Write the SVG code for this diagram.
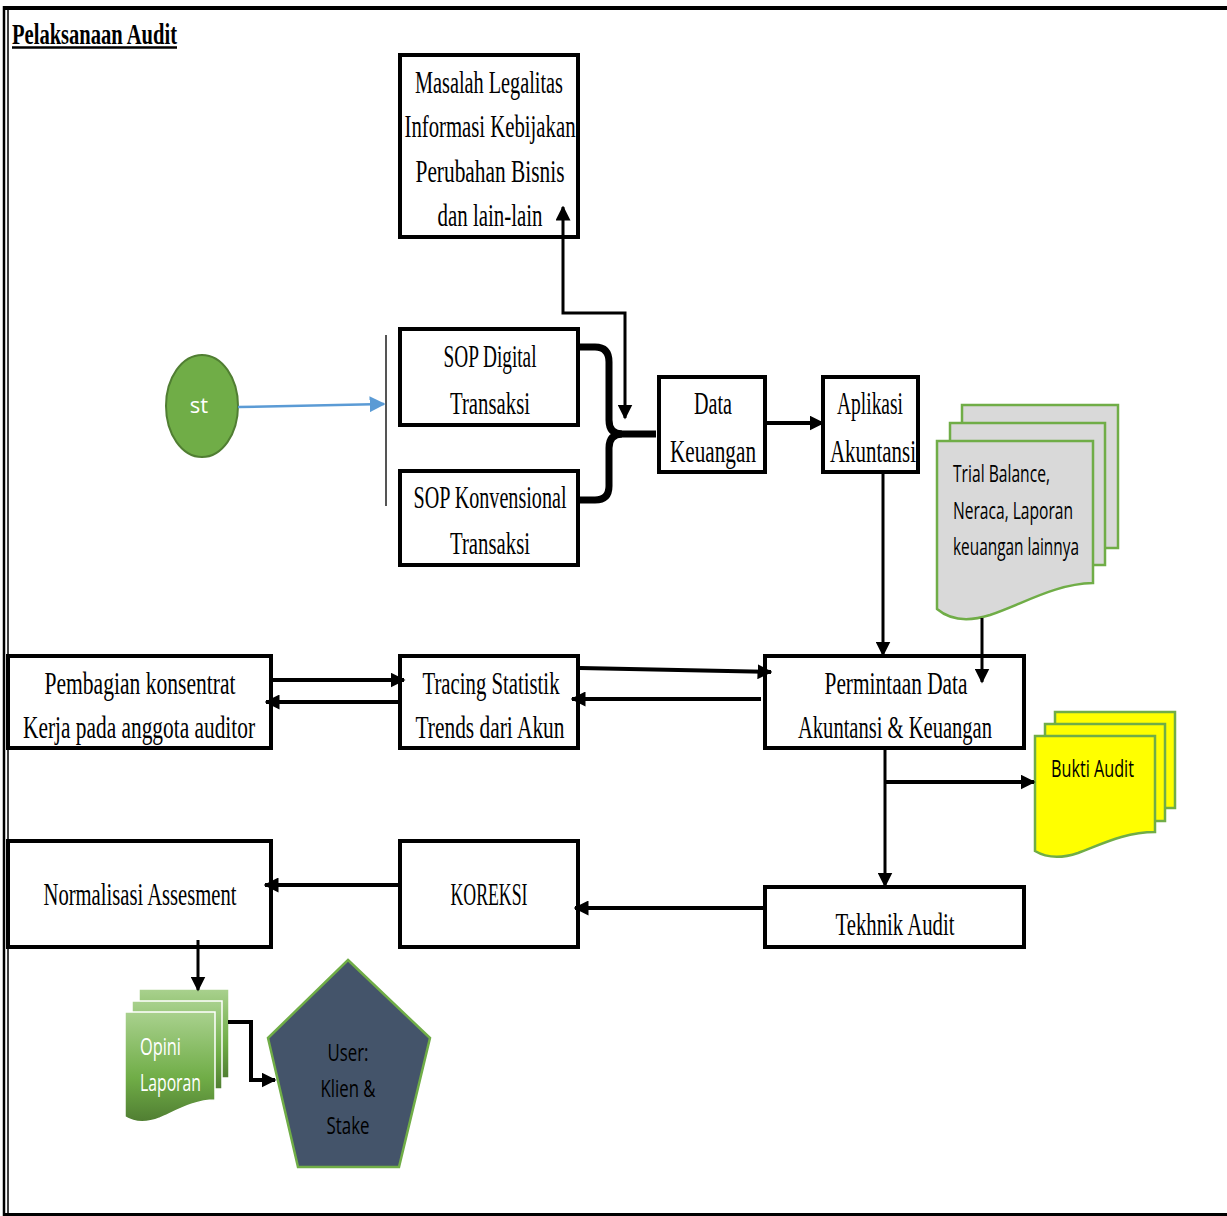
<svg xmlns="http://www.w3.org/2000/svg" width="1227" height="1216" viewBox="0 0 1227 1216">
<defs>
<style>
.box{fill:#fff;stroke:#000;stroke-width:4}
.t{font-family:"Liberation Serif","DejaVu Serif",serif;font-size:32px;fill:#000;text-anchor:middle}
.s{font-family:"Open Sans","Liberation Sans",sans-serif;font-size:23px;fill:#000}
.ln{fill:none;stroke:#000;stroke-width:4}
.ln3{fill:none;stroke:#000;stroke-width:3}
.gdoc{fill:#D9D9D9;stroke:#70AD47;stroke-width:2.5}
.ydoc{fill:#FFFF00;stroke:#70AD47;stroke-width:2.5}
.odoc{fill:url(#og);stroke:#fff;stroke-width:1.5}
</style>
<linearGradient id="og" x1="0" y1="0" x2="0" y2="1">
<stop offset="0" stop-color="#A9D18E"/>
<stop offset="0.6" stop-color="#70AD47"/>
<stop offset="1" stop-color="#507E32"/>
</linearGradient>
<marker id="ah" viewBox="0 0 10 10" refX="9" refY="5" markerWidth="15" markerHeight="15" markerUnits="userSpaceOnUse" orient="auto-start-reverse">
<path d="M0,0 L10,5 L0,10 Z" fill="#000"/>
</marker>
<marker id="ahb" viewBox="0 0 10 10" refX="9" refY="5" markerWidth="16" markerHeight="18" markerUnits="userSpaceOnUse" orient="auto">
<path d="M0,0 L10,5 L0,10 Z" fill="#5B9BD5"/>
</marker>
</defs>

<g id="frame">
<line x1="4" y1="8" x2="1227" y2="8" stroke="#000" stroke-width="4"/>
<line x1="4" y1="6" x2="4" y2="1216" stroke="#000" stroke-width="2.5"/>
<line x1="8" y1="8" x2="8" y2="1214" stroke="#000" stroke-width="1.5"/>
<line x1="4" y1="1214.5" x2="1227" y2="1214.5" stroke="#000" stroke-width="3"/>
</g>

<g id="title">
<text x="12" y="44" font-family="Liberation Serif, serif" font-size="30" font-weight="bold" textLength="165" lengthAdjust="spacingAndGlyphs">Pelaksanaan Audit</text>
<line x1="12" y1="47.5" x2="177" y2="47.5" stroke="#000" stroke-width="2.5"/>
</g>

<g id="masalah">
<rect class="box" x="400" y="55" width="178" height="182"/>
<text class="t" x="489" y="93" textLength="148" lengthAdjust="spacingAndGlyphs">Masalah Legalitas</text>
<text class="t" x="490" y="137" textLength="171" lengthAdjust="spacingAndGlyphs">Informasi Kebijakan</text>
<text class="t" x="490" y="182" textLength="149" lengthAdjust="spacingAndGlyphs">Perubahan Bisnis</text>
<text class="t" x="490" y="226" textLength="105" lengthAdjust="spacingAndGlyphs">dan lain-lain</text>
</g>

<g id="start">
<ellipse cx="202" cy="406" rx="36" ry="51" fill="#70AD47" stroke="#507E32" stroke-width="2"/>
<text x="199" y="413" font-family="Open Sans, Liberation Sans, sans-serif" font-size="22" fill="#fff" text-anchor="middle">st</text>
</g>

<g id="sop-digital">
<rect class="box" x="400" y="329" width="178" height="96"/>
<text class="t" x="490" y="367" textLength="93" lengthAdjust="spacingAndGlyphs">SOP Digital</text>
<text class="t" x="490" y="414" textLength="80" lengthAdjust="spacingAndGlyphs">Transaksi</text>
</g>

<g id="sop-konvensional">
<rect class="box" x="400" y="471" width="178" height="94"/>
<text class="t" x="490" y="508" textLength="153" lengthAdjust="spacingAndGlyphs">SOP Konvensional</text>
<text class="t" x="490" y="554" textLength="80" lengthAdjust="spacingAndGlyphs">Transaksi</text>
</g>

<g id="data-keuangan">
<rect class="box" x="659" y="377" width="106" height="95"/>
<text class="t" x="713" y="414" textLength="38" lengthAdjust="spacingAndGlyphs">Data</text>
<text class="t" x="713" y="462" textLength="86" lengthAdjust="spacingAndGlyphs">Keuangan</text>
</g>

<g id="aplikasi">
<rect class="box" x="823" y="377" width="95" height="95"/>
<text class="t" x="870" y="414" textLength="66" lengthAdjust="spacingAndGlyphs">Aplikasi</text>
<text class="t" x="873" y="462" textLength="86" lengthAdjust="spacingAndGlyphs">Akuntansi</text>
</g>

<g id="trial-balance">
<rect class="gdoc" x="962" y="405" width="156" height="143"/>
<rect class="gdoc" x="950" y="423" width="155" height="142"/>
<path class="gdoc" d="M937,441 H1093 V583 C1055,584 1025,603 990,615 C968,622 950,620 937,609 Z"/>
<text class="s" x="953" y="482" textLength="97" lengthAdjust="spacingAndGlyphs">Trial Balance,</text>
<text class="s" x="953" y="519" textLength="120" lengthAdjust="spacingAndGlyphs">Neraca, Laporan</text>
<text class="s" x="953" y="555" textLength="126" lengthAdjust="spacingAndGlyphs">keuangan lainnya</text>
</g>

<g id="pembagian">
<rect class="box" x="8" y="656" width="263" height="92"/>
<text class="t" x="140" y="694" textLength="191" lengthAdjust="spacingAndGlyphs">Pembagian konsentrat</text>
<text class="t" x="139" y="738" textLength="232" lengthAdjust="spacingAndGlyphs">Kerja pada anggota auditor</text>
</g>

<g id="tracing">
<rect class="box" x="400" y="656" width="178" height="92"/>
<text class="t" x="491" y="694" textLength="137" lengthAdjust="spacingAndGlyphs">Tracing Statistik</text>
<text class="t" x="490" y="738" textLength="149" lengthAdjust="spacingAndGlyphs">Trends dari Akun</text>
</g>

<g id="permintaan">
<rect class="box" x="765" y="656" width="259" height="92"/>
<text class="t" x="896" y="694" textLength="143" lengthAdjust="spacingAndGlyphs">Permintaan Data</text>
<text class="t" x="895" y="738" textLength="194" lengthAdjust="spacingAndGlyphs">Akuntansi &amp; Keuangan</text>
</g>

<g id="bukti-audit">
<rect class="ydoc" x="1055" y="712" width="120" height="96"/>
<rect class="ydoc" x="1045" y="724" width="120" height="97"/>
<path class="ydoc" d="M1035,736 H1155 V832 C1125,832 1100,845 1078,853 C1060,859 1045,857 1035,851 Z"/>
<text class="s" x="1051" y="777" textLength="83" lengthAdjust="spacingAndGlyphs">Bukti Audit</text>
</g>

<g id="tekhnik-audit">
<rect class="box" x="765" y="887" width="259" height="60"/>
<text class="t" x="895" y="935" textLength="119" lengthAdjust="spacingAndGlyphs">Tekhnik Audit</text>
</g>

<g id="koreksi">
<rect class="box" x="400" y="841" width="178" height="106"/>
<text class="t" x="489" y="905" textLength="77" lengthAdjust="spacingAndGlyphs">KOREKSI</text>
</g>

<g id="normalisasi">
<rect class="box" x="8" y="841" width="263" height="106"/>
<text class="t" x="140" y="905" textLength="193" lengthAdjust="spacingAndGlyphs">Normalisasi Assesment</text>
</g>

<g id="opini-laporan">
<rect class="odoc" x="139" y="989" width="90" height="89"/>
<rect class="odoc" x="132" y="1001" width="90" height="88"/>
<path class="odoc" d="M125,1012 H215 V1100 C195,1100 178,1110 160,1118 C145,1124 133,1122 125,1117 Z"/>
<text x="140" y="1055" font-family="Open Sans, Liberation Sans, sans-serif" font-size="23" fill="#fff" textLength="41" lengthAdjust="spacingAndGlyphs">Opini</text>
<text x="140" y="1091" font-family="Open Sans, Liberation Sans, sans-serif" font-size="23" fill="#fff" textLength="61" lengthAdjust="spacingAndGlyphs">Laporan</text>
</g>

<g id="user">
<polygon points="348,960 430,1038 399,1167 298,1167 268,1038" fill="#44546A" stroke="#70AD47" stroke-width="2.5"/>
<text class="s" x="348" y="1061" text-anchor="middle" textLength="41" lengthAdjust="spacingAndGlyphs">User:</text>
<text class="s" x="348" y="1097" text-anchor="middle" textLength="55" lengthAdjust="spacingAndGlyphs">Klien &amp;</text>
<text class="s" x="348" y="1134" text-anchor="middle" textLength="43" lengthAdjust="spacingAndGlyphs">Stake</text>
</g>

<g id="connectors">
<line x1="386" y1="335" x2="386" y2="506" stroke="#555" stroke-width="2"/>
<line x1="238" y1="407" x2="384" y2="404" stroke="#5B9BD5" stroke-width="2.5" marker-end="url(#ahb)"/>
<path d="M580,347 H595 Q609,347 609,362 V420 Q609,434 622,434 Q609,434 609,448 V486 Q609,500 595,500 H580" fill="none" stroke="#000" stroke-width="7"/>
<line x1="618" y1="434" x2="656" y2="434" stroke="#000" stroke-width="7"/>
<path class="ln3" d="M563,207 V313 H625 V418" marker-start="url(#ah)" marker-end="url(#ah)"/>
<line class="ln" x1="767" y1="423" x2="823" y2="423" marker-end="url(#ah)"/>
<line class="ln3" x1="883" y1="474" x2="883" y2="655" marker-end="url(#ah)"/>
<line class="ln3" x1="982" y1="618" x2="982" y2="682" marker-end="url(#ah)"/>
<line class="ln" x1="269" y1="680" x2="404" y2="680" marker-end="url(#ah)"/>
<line class="ln" x1="398" y1="702" x2="266" y2="702" marker-end="url(#ah)"/>
<line class="ln" x1="580" y1="668" x2="771" y2="672" marker-end="url(#ah)"/>
<line class="ln" x1="761" y1="699" x2="572" y2="699" marker-end="url(#ah)"/>
<line class="ln3" x1="885" y1="750" x2="885" y2="886" marker-end="url(#ah)"/>
<line class="ln" x1="885" y1="782" x2="1034" y2="782" marker-end="url(#ah)"/>
<line class="ln" x1="763" y1="908" x2="575" y2="908" marker-end="url(#ah)"/>
<line class="ln" x1="398" y1="885" x2="265" y2="885" marker-end="url(#ah)"/>
<line class="ln3" x1="198" y1="940" x2="198" y2="990" marker-end="url(#ah)"/>
<path class="ln" d="M228,1022 H251 V1080 H275" marker-end="url(#ah)"/>
</g>
</svg>
